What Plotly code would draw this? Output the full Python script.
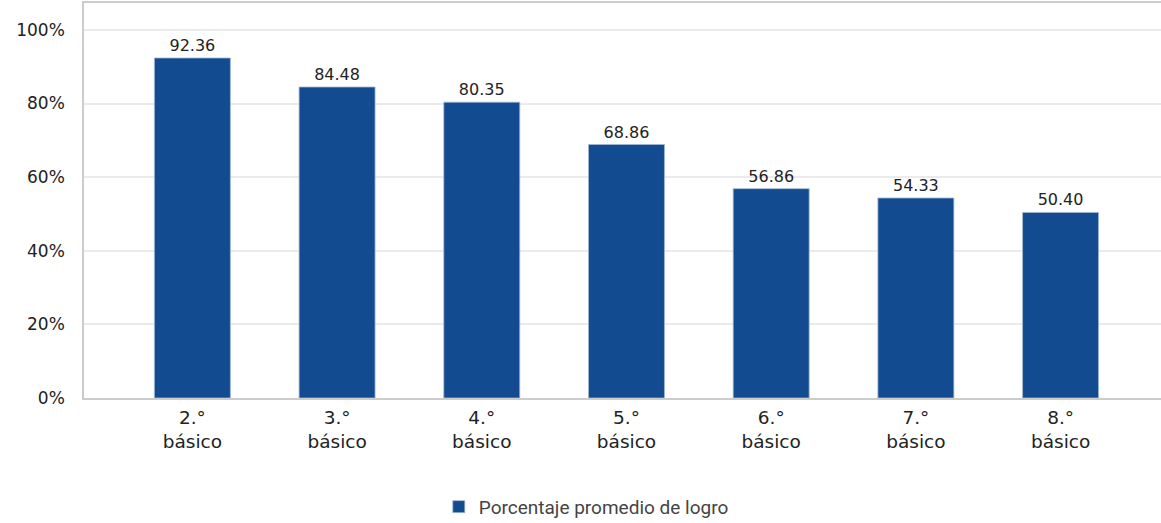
import plotly.graph_objects as go

categories = ["2.°<br>básico", "3.°<br>básico", "4.°<br>básico", "5.°<br>básico",
              "6.°<br>básico", "7.°<br>básico", "8.°<br>básico"]
values = [92.36, 84.48, 80.35, 68.86, 56.86, 54.33, 50.40]
series_name = "Porcentaje promedio de logro"
y_ticks = [0, 20, 40, 60, 80, 100]
y_ticklabels = ["0%", "20%", "40%", "60%", "80%", "100%"]

fig = go.Figure()
fig.add_trace(go.Bar(
    x=list(range(len(categories))),
    y=values,
    name=series_name,
    marker=dict(color="#124b8f", line=dict(color="#9fb6d3", width=0.8)),
    width=0.525,
    text=[f"{v:.2f}" for v in values],
    textposition="outside",
    textfont=dict(family="DejaVu Sans", size=16, color="#222"),
    cliponaxis=False,
    showlegend=True,
))

fig.update_layout(
    width=1161, height=523,
    margin=dict(l=84, r=0, t=3, b=125),
    paper_bgcolor="white", plot_bgcolor="white",
    xaxis=dict(
        range=[-0.749, 6.694],
        tickmode="array", tickvals=list(range(len(categories))), ticktext=categories,
        tickfont=dict(family="DejaVu Sans", size=18.5, color="#222"),
        showgrid=False, showline=True, linecolor="#cccccc", linewidth=1.5, mirror=True,
        ticks="", zeroline=False, ticklabelstandoff=2,
    ),
    yaxis=dict(
        range=[0, 107.3],
        tickmode="array", tickvals=y_ticks, ticktext=y_ticklabels,
        tickfont=dict(family="DejaVu Sans", size=17, color="#222"),
        showgrid=True, gridcolor="#ebebeb", gridwidth=1.5,
        showline=True, linecolor="#cccccc", linewidth=1.5, mirror=False,
        ticks="", zeroline=False, ticklabelstandoff=14,
    ),
    legend=dict(
        orientation="h", xref="container", yref="container",
        x=0.505, xanchor="center", y=0.031, yanchor="middle",
        font=dict(family="Roboto", size=19, color="#444"),
    ),
)

fig.write_html("out.html", config={"displayModeBar": False},
               post_script="document.body.style.margin='0';")
